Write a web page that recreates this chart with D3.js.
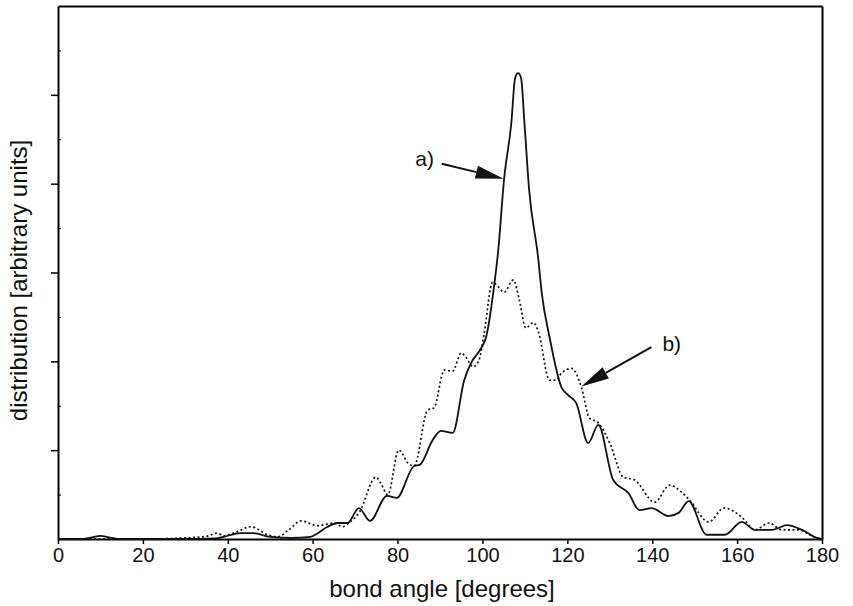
<!DOCTYPE html>
<html>
<head>
<meta charset="utf-8">
<script src="https://cdn.jsdelivr.net/npm/d3@7"></script>
<style>
  body { margin: 0; background: #fff; }
  text { font-family: "Liberation Sans", Arial, Helvetica, sans-serif; fill: #111; }
</style>
</head>
<body>
<div id="chart"></div>
<script>
// angles (degrees) and distribution values
var angleA = [0, 5, 8, 10, 12, 15, 30, 37, 39, 43, 46, 50, 55, 59.5, 61, 63.5, 65.9, 68.2, 70.9, 73.5,
  77.5, 79.8, 83.9, 85.2, 88.3, 90.2, 93, 95.7, 97.3, 99.7, 100.9, 102.8, 103.7, 105.1, 106.8, 107.7,
  108.4, 109.1, 109.9, 111, 113.1, 114, 115.8, 118.6, 120.2, 122.1, 124.9, 127.3, 130.8, 134.4, 137,
  139.9, 143.8, 146.2, 148.6, 152.8, 157.1, 161.1, 164.2, 168.2, 171.8, 175.3, 178.8, 180];
var valueA = [0, 0, 0.3, 0.6, 0.3, 0, 0, 0.1, 0.4, 1.1, 1.1, 0.4, 0.2, 0.4, 1.0, 2.3, 3.0, 3.0, 5.8, 3.4,
  8.1, 7.7, 13.7, 13.9, 18.6, 20.3, 19.9, 29.8, 33, 35.8, 38, 47.8, 54, 67.5, 78, 86.5,
  87.4, 86.5, 78, 65.5, 52.9, 46, 37.9, 28.5, 27, 25.5, 18, 21.4, 11.1, 8.6, 5.4,
  5.8, 4.3, 4.9, 7.1, 0.8, 0.8, 3.2, 1.7, 1.7, 2.6, 1.7, 0.2, 0];

var angleB = [0, 20, 30, 35, 37.5, 39, 42, 45.4, 49.4, 51.7, 54.5, 57.2, 61.2, 65, 67, 68.5, 71, 74.9,
  76, 77.7, 80.3, 82.4, 83.9, 87.1, 88.6, 91, 93, 95, 96.1, 97.8, 99.2, 100.4, 102.4, 103.5, 105.1,
  107.3, 108.7, 110.2, 112, 113.2, 115.8, 117.4, 118.6, 121, 123.3, 125.2, 127.3, 130, 133.2, 135.8,
  140.6, 144.1, 146.9, 148.8, 153.3, 156.9, 161.1, 164.2, 167.5, 170.6, 174.6, 178.1, 180];
var valueB = [0, 0, 0.2, 0.5, 1.1, 0.6, 1.3, 2.3, 0.8, 0.4, 1.8, 3.4, 2.5, 3, 2.3, 3, 5, 11.6,
  10.5, 8.3, 16.7, 14.3, 13.7, 24.2, 24.6, 31.7, 31.5, 34.9, 34.1, 32.3, 33.6, 38.6, 48.2, 47.5, 46.3,
  48.6, 44.8, 39.6, 40.6, 38.8, 29.8, 29.8, 31.1, 32, 28.5, 22.7, 21.8, 18, 11.6, 11.1,
  6.9, 10.1, 8.8, 7.3, 3.2, 5.8, 4.1, 1.7, 3, 1.7, 1.7, 0.4, 0];

var xTicks = [0, 20, 40, 60, 80, 100, 120, 140, 160, 180];
var yTicks = [100 / 6, 200 / 6, 300 / 6, 400 / 6, 500 / 6];
var yMinor = [50 / 6, 150 / 6, 250 / 6, 350 / 6, 450 / 6, 550 / 6];

// annotation arrows: label, text position, arrow start, arrow tip (angle, value)
var noteLabels = ["a)", "b)"];
var noteText = [[88.6, 71.3], [142.4, 36.6]];
var noteFrom = [[90.4, 70.4], [139.8, 36.0]];
var noteTip = [[105.0, 67.6], [123.3, 28.6]];

var width = 853, height = 606;
var margin = {top: 6, right: 31, bottom: 67, left: 58};

var svg = d3.select("#chart").append("svg")
  .attr("width", width)
  .attr("height", height);

var x = d3.scaleLinear().domain([0, 180]).range([margin.left, width - margin.right]);
var y = d3.scaleLinear().domain([0, 100]).range([height - margin.bottom, margin.top]);

// frame
svg.append("g")
  .attr("transform", "translate(0," + y(100) + ")")
  .call(d3.axisTop(x).tickValues([]).tickSizeOuter(0))
  .select(".domain").attr("stroke-width", 2);
svg.append("g")
  .attr("transform", "translate(" + x(180) + ",0)")
  .call(d3.axisRight(y).tickValues([]).tickSizeOuter(0))
  .select(".domain").attr("stroke-width", 2);

// x axis
var gx = svg.append("g")
  .attr("transform", "translate(0," + y(0) + ")")
  .call(d3.axisBottom(x).tickValues(xTicks).tickSize(5).tickSizeOuter(0).tickPadding(4));
gx.select(".domain").attr("stroke-width", 2);
gx.selectAll(".tick line").attr("stroke-width", 1.5);
gx.selectAll("text").attr("font-size", 20).style("font-family", "'Liberation Sans', Arial, sans-serif");

// y axis, major ticks outside, minor ticks inside
var gy = svg.append("g")
  .attr("transform", "translate(" + x(0) + ",0)")
  .call(d3.axisLeft(y).tickValues(yTicks).tickSize(7).tickSizeOuter(0).tickFormat(""));
gy.select(".domain").attr("stroke-width", 2);
gy.selectAll(".tick line").attr("stroke-width", 1.5);
svg.append("g")
  .attr("transform", "translate(" + x(0) + ",0)")
  .call(d3.axisRight(y).tickValues(yMinor).tickSize(3).tickSizeOuter(0).tickFormat(""))
  .select(".domain").remove();

// axis titles
svg.append("text")
  .attr("x", (x(0) + x(180)) / 2 + 2)
  .attr("y", height - 9)
  .attr("text-anchor", "middle")
  .attr("font-size", 24)
  .text("bond angle [degrees]");

svg.append("text")
  .attr("transform", "translate(27," + ((y(0) + y(100)) / 2 + 8) + ") rotate(-90)")
  .attr("text-anchor", "middle")
  .attr("font-size", 24)
  .text("distribution [arbitrary units]");

// curves
var line = d3.line()
  .x(function(d) { return x(d[0]); })
  .y(function(d) { return y(d[1]); })
  .curve(d3.curveMonotoneX);

svg.append("path")
  .datum(d3.zip(angleB, valueB))
  .attr("fill", "none")
  .attr("stroke", "#111")
  .attr("stroke-width", 1.7)
  .attr("stroke-dasharray", "2,2.5")
  .attr("d", line);

svg.append("path")
  .datum(d3.zip(angleA, valueA))
  .attr("fill", "none")
  .attr("stroke", "#111")
  .attr("stroke-width", 1.8)
  .attr("d", line);

// annotations
noteLabels.forEach(function(lab, i) {
  var x0 = x(noteFrom[i][0]), y0 = y(noteFrom[i][1]);
  var x1 = x(noteTip[i][0]), y1 = y(noteTip[i][1]);
  var ang = Math.atan2(y1 - y0, x1 - x0);
  var len = 28, half = 6.5;
  var bx = x1 - len * Math.cos(ang), by = y1 - len * Math.sin(ang);
  svg.append("line")
    .attr("x1", x0).attr("y1", y0).attr("x2", bx).attr("y2", by)
    .attr("stroke", "#111").attr("stroke-width", 2);
  svg.append("path")
    .attr("d", "M" + x1 + "," + y1 +
      "L" + (bx + half * Math.sin(ang)) + "," + (by - half * Math.cos(ang)) +
      "L" + (bx - half * Math.sin(ang)) + "," + (by + half * Math.cos(ang)) + "Z")
    .attr("fill", "#111");
  svg.append("text")
    .attr("x", x(noteText[i][0]))
    .attr("y", y(noteText[i][1]))
    .attr("dy", "0.35em")
    .attr("text-anchor", i == 0 ? "end" : "start")
    .attr("font-size", 21)
    .text(lab);
});
</script>
</body>
</html>
